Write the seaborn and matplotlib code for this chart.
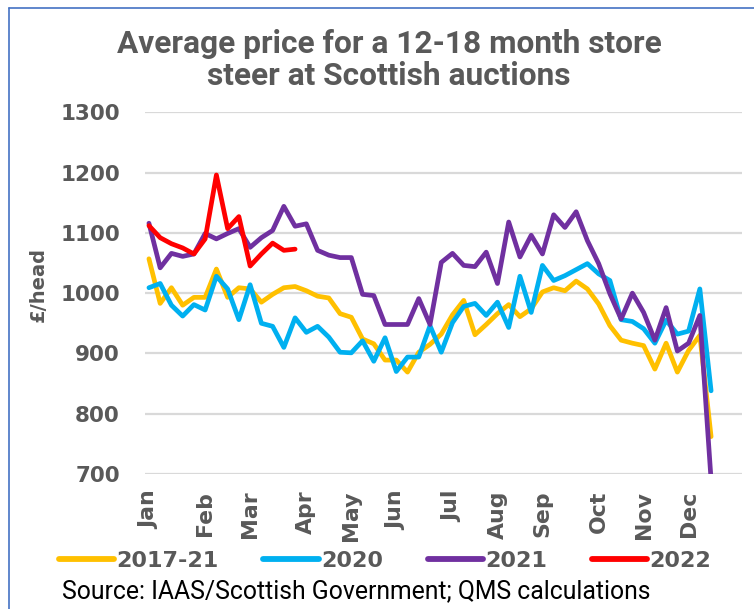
import matplotlib
matplotlib.use("Agg")
import matplotlib.pyplot as plt
from matplotlib import font_manager
from matplotlib.lines import Line2D
import seaborn as sns
import pandas as pd
import numpy as np

# ---------------- data ----------------
months = ["Jan", "Feb", "Mar", "Apr", "May", "Jun", "Jul", "Aug", "Sep", "Oct", "Nov", "Dec"]
month_week = [0, 5, 9, 14, 18, 22, 27, 31, 35, 40, 44, 48]

avg_2017_21 = [1057, 983, 1009, 980, 993, 993, 1040, 993, 1009, 1007, 985, 998, 1009, 1011,
               1004, 995, 992, 966, 960, 924, 916, 889, 889, 869, 902, 915, 932, 964,
               988, 931, 948, 966, 981, 961, 974, 1002, 1009, 1004, 1020, 1007, 982, 946,
               922, 917, 913, 874, 917, 869, 905, 930, 762]
y2020 = [1009, 1016, 980, 962, 981, 972, 1028, 1007, 956, 1014, 950, 945, 910, 959,
         935, 945, 927, 902, 901, 921, 887, 926, 870, 894, 894, 946, 902, 951,
         978, 983, 963, 985, 943, 1028, 968, 1046, 1021, 1029, 1039, 1049, 1032, 1021,
         956, 953, 941, 917, 955, 932, 937, 1007, 838]
y2021 = [1116, 1042, 1066, 1061, 1065, 1099, 1090, 1099, 1107, 1076, 1092, 1104, 1144, 1111,
         1115, 1071, 1063, 1059, 1059, 998, 996, 948, 948, 948, 991, 948, 1051, 1066,
         1046, 1044, 1068, 1016, 1118, 1060, 1096, 1065, 1130, 1109, 1135, 1087, 1049, 999,
         957, 1000, 968, 922, 976, 904, 917, 963, 690]
y2022 = [1112, 1092, 1082, 1075, 1065, 1090, 1196, 1107, 1127, 1045, 1065, 1083, 1071, 1073]

series_names = ["2017-21", "2020", "2021", "2022"]
series_vals = [avg_2017_21, y2020, y2021, y2022]
colors = ["#FFC000", "#00B0F0", "#7030A0", "#FF0000"]

df = pd.concat(
    [pd.DataFrame({"week": np.arange(len(v)), "price": v, "series": n})
     for n, v in zip(series_names, series_vals)],
    ignore_index=True,
)

# ---------------- fonts ----------------
available = {f.name for f in font_manager.fontManager.ttflist}
def pick(*names):
    for n in names:
        if n in available:
            return n
    return "DejaVu Sans"

narrow = pick("Liberation Sans Narrow", "Roboto", "Open Sans")
TXT = "#595959"

sns.set_theme(style="white")
plt.rcParams["font.family"] = ["DejaVu Sans"]

fig = plt.figure(figsize=(7.54, 6.09), dpi=100)
ax = fig.add_axes([145 / 754, 1 - 474 / 609, (742 - 145) / 754, (474 - 112.3) / 609])

sns.lineplot(data=df, x="week", y="price", hue="series", hue_order=series_names,
             palette=colors, linewidth=3.4, ax=ax, legend=False, sort=False,
             estimator=None)
for ln in ax.get_lines():
    ln.set_solid_capstyle("round")
    ln.set_solid_joinstyle("round")

ax.set_ylim(700, 1300)
ax.set_xlim(-0.35, 52.75)
ax.set_yticks(np.arange(700, 1301, 100))
ax.set_xticks(month_week)
ax.set_xticklabels(months, rotation=90)
ax.grid(axis="y", color="#D9D9D9", linewidth=1.6)
ax.grid(axis="x", visible=False)
ax.set_axisbelow(True)
for s in ax.spines.values():
    s.set_visible(False)
ax.tick_params(axis="y", length=0, pad=18, labelsize=15.5, labelcolor=TXT)
ax.tick_params(axis="x", length=0, pad=12, labelsize=15.8, labelcolor=TXT)
for t in ax.get_yticklabels() + ax.get_xticklabels():
    t.set_fontweight("bold")
for t in ax.get_xticklabels():
    t.set_verticalalignment("top")
    t.set_horizontalalignment("center")
ax.set_xlabel("")
ax.set_ylabel("")

# y axis label
fig.text(38 / 754, 1 - 284 / 609, "£/head", rotation=90, ha="center", va="center",
         fontsize=14, fontweight="bold", color=TXT)

# title
fig.text(389 / 754, 1 - 60 / 609,
         "Average price for a 12-18 month store\nsteer at Scottish auctions",
         ha="center", va="center", fontsize=22.8, fontweight="bold", color=TXT,
         family=narrow, linespacing=1.12)

# legend
handles = [Line2D([0], [0], color=c, linewidth=4.2, solid_capstyle="round") for c in colors]
leg = fig.legend(handles, series_names, loc="center", bbox_to_anchor=(385 / 754, 1 - 561 / 609),
                 ncol=4, frameon=False, handlelength=2.5, handletextpad=0.1,
                 columnspacing=2.0, prop={"weight": "bold", "size": 16})
for t in leg.get_texts():
    t.set_color(TXT)

# source
fig.text(62 / 754, 1 - 591 / 609, "Source: IAAS/Scottish Government; QMS calculations",
         ha="left", va="center", fontsize=17.8, color="#000000", family=narrow)

# border
fig.add_artist(Line2D([9 / 754, 9 / 754], [0, 1 - 8 / 609], color="#4472C4", linewidth=1.2,
                      transform=fig.transFigure))
fig.add_artist(Line2D([9 / 754, 1], [1 - 8 / 609, 1 - 8 / 609], color="#4472C4", linewidth=1.2,
                      transform=fig.transFigure))

fig.savefig("out.png", dpi=100)
